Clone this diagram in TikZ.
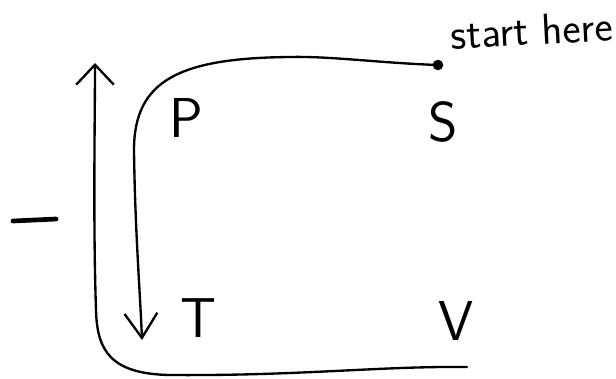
\documentclass[tikz,border=0pt]{standalone}
\usepackage{fontspec}
\usepackage{tikz}
\usetikzlibrary{arrows.meta}

\tikzset{
  pen/.style={line width=2pt, line cap=round, line join=round},
  letter/.style={inner sep=0pt, font=\sffamily\fontsize{48}{48}\selectfont},
  upbarb/.style={-{Straight Barb[length=17pt,width=32pt]}},
  downbarb/.style={-{Straight Barb[length=21pt,width=28pt]}}
}

\begin{document}
\begin{tikzpicture}[x=0.03cm, y=-0.03cm]
        \useasboundingbox (0,0) rectangle (616,378);
        % corner labels
        \node[letter] (P) at (186,118) {P};
        \node[letter] (S) at (443,122) {S};
        \node[letter] (T) at (199,318) {T};
        \node[letter] (V) at (456,321) {V};
        \node[inner sep=0pt, rotate=3, font=\sffamily\fontsize{37}{37}\selectfont] (hint) at (532,30) {start here};
        % start dot and free ends
        \node[circle, fill, inner sep=0pt, minimum size=9pt] (start) at (438,65) {};
        \coordinate (downtip) at (142,340);
        \coordinate (uptip) at (95,63);
        \coordinate (bottomend) at (467,367);
        % inner path: from start over the top, down past P to T
        \draw[pen, downbarb] (start.center) .. controls (380,63) and (330,56) .. (290,57)
              .. controls (180,58) and (134,80) .. (134,150)
              .. controls (135,230) and (140,290) .. (downtip);
        % outer path: from under V, along the bottom, up the left side
        \draw[pen, upbarb] (bottomend) .. controls (380,366) and (300,376) .. (170,375)
              .. controls (110,374) and (97,350) .. (96,310)
              .. controls (93,220) and (95,120) .. (uptip);
        % minus sign on the left
        \draw[line width=4pt, line cap=round] (13,221) -- (56,219);
\end{tikzpicture}
\end{document}
